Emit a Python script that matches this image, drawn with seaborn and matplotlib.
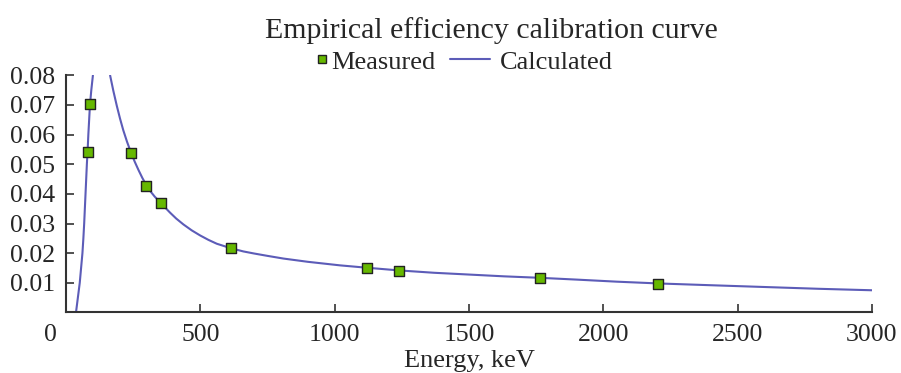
import numpy as np
import pandas as pd
import seaborn as sns
import matplotlib.pyplot as plt
from matplotlib.lines import Line2D

# measured efficiency points (keV, efficiency)
meas_energy = [81, 90, 242, 299, 354, 613, 1120, 1239, 1764, 2205]
meas_eff = [0.0543, 0.0703, 0.0539, 0.0427, 0.0371, 0.0217, 0.0150, 0.0140, 0.0118, 0.0097]

# calculated curve, rising branch (left of the peak)
rise_energy = [37, 44, 51, 56, 61, 64.5, 67.5, 70, 72.5, 75, 77.5, 80.5, 83, 86, 89, 94, 100]
rise_eff = [0.0, 0.005, 0.010, 0.015, 0.020, 0.025, 0.030, 0.035, 0.040, 0.045,
            0.050, 0.055, 0.060, 0.065, 0.070, 0.075, 0.080]

# falling branch (right of the peak)
fall_energy = [164, 176, 189, 201, 213, 227, 242, 256, 270, 284, 298, 313, 330, 354,
               387, 410, 437, 468, 499, 530, 561, 613, 660, 700, 750, 809, 900, 1020,
               1120, 1239, 1370, 1500, 1630, 1764, 1900, 2050, 2205, 2400, 2600, 2800, 3000]
fall_eff = [0.0800, 0.0748, 0.0697, 0.0654, 0.0615, 0.0576, 0.0539, 0.0508, 0.0480,
            0.0454, 0.0431, 0.0410, 0.0391, 0.0368, 0.0337, 0.0317, 0.0297, 0.0277,
            0.0260, 0.0245, 0.0232, 0.0217, 0.0206, 0.0199, 0.0191, 0.0182, 0.0171,
            0.0159, 0.0151, 0.0142, 0.0134, 0.0128, 0.0122, 0.0117, 0.0111, 0.0104,
            0.0098, 0.0092, 0.0086, 0.0080, 0.0075]

x_ticks = [0, 500, 1000, 1500, 2000, 2500, 3000]
y_ticks = [0.01, 0.02, 0.03, 0.04, 0.05, 0.06, 0.07, 0.08]

measured = pd.DataFrame({"energy": meas_energy, "eff": meas_eff})
curve = pd.concat([
    pd.DataFrame({"energy": rise_energy, "eff": rise_eff, "branch": "rise"}),
    pd.DataFrame({"energy": fall_energy, "eff": fall_eff, "branch": "fall"}),
])

sns.set_theme(style="ticks")
plt.rcParams["font.family"] = ["Liberation Serif", "DejaVu Serif"]
plt.rcParams["xtick.direction"] = "in"
plt.rcParams["ytick.direction"] = "in"

line_col = "#5c5cb8"
green = "#66b800"
axis_col = "#333333"
tick_fs = 18.5
text_fs = 19

fig = plt.figure(figsize=(9.01, 3.73), dpi=100)
ax = fig.add_axes([0.0733, 0.1622, 0.8945, 0.6358])

sns.lineplot(data=curve, x="energy", y="eff", units="branch", estimator=None,
             sort=False, color=line_col, linewidth=1.5, ax=ax, legend=False)
sns.scatterplot(data=measured, x="energy", y="eff", marker="s", s=44,
                color=green, edgecolor="#222222", linewidth=1.0, zorder=3,
                ax=ax, legend=False)

ax.set_xlim(0, 3000)
ax.set_ylim(0, 0.08)
ax.set_xticks(x_ticks)
ax.set_xticklabels([""] + [str(t) for t in x_ticks[1:]])
ax.set_yticks(y_ticks)
ax.set_yticklabels([f"{t:.2f}" for t in y_ticks])
ax.tick_params(axis="both", length=6, width=1.2, color=axis_col, labelsize=tick_fs)
ax.tick_params(axis="x", pad=8)
ax.tick_params(axis="y", pad=8)
sns.despine(ax=ax)
for side in ["left", "bottom"]:
    ax.spines[side].set_linewidth(1.5)
    ax.spines[side].set_color(axis_col)

# origin label sits a bit left of the axis corner
ax.annotate("0", xy=(0, 0), xycoords=("data", "axes fraction"),
            xytext=(-11, -16), textcoords="offset points",
            ha="center", va="center", fontsize=tick_fs)

ax.set_xlabel("Energy, keV", fontsize=text_fs, labelpad=3)
ax.set_ylabel("")

fig.text(0.545, 0.918, "Empirical efficiency calibration curve",
         ha="center", va="center", fontsize=21.5)

meas_handle = Line2D([], [], linestyle="none", marker="s", markersize=5.2,
                     markerfacecolor=green, markeredgecolor="#222222",
                     markeredgewidth=1.0)
calc_handle = Line2D([], [], color=line_col, linewidth=1.5)

fig.legend([meas_handle], ["Measured"], loc="center",
           bbox_to_anchor=(0.417, 0.834), frameon=False, fontsize=text_fs,
           handlelength=0.4, handletextpad=0.15, borderpad=0)
fig.legend([calc_handle], ["Calculated"], loc="center",
           bbox_to_anchor=(0.590, 0.834), frameon=False, fontsize=text_fs,
           handlelength=1.5, handletextpad=0.4, borderpad=0)

fig.savefig("out.png", dpi=100)
